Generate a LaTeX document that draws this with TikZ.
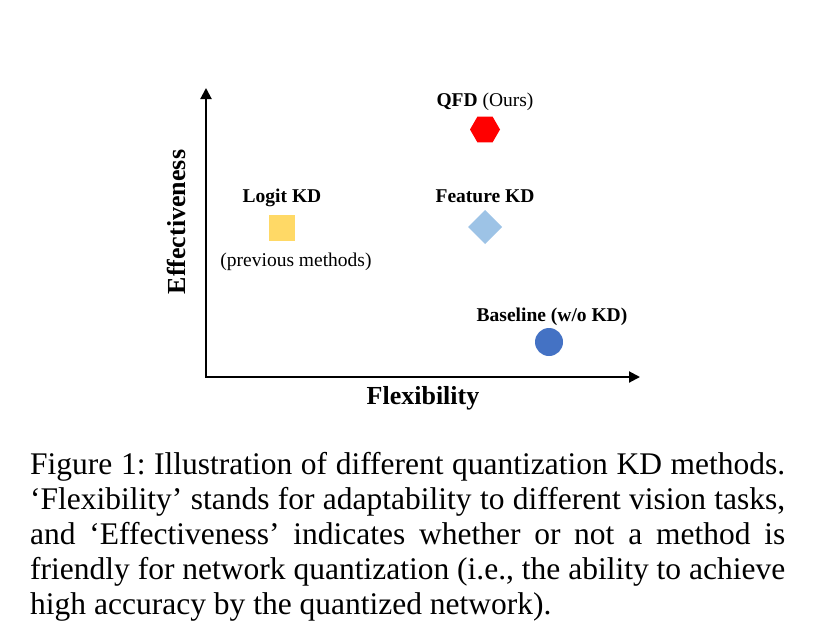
\documentclass[tikz,border=0pt]{standalone}
\usepackage{fontspec}
\setmainfont{Liberation Serif}
\usepackage{xcolor}
\usepackage{tikz}
\usetikzlibrary{positioning,arrows.meta,shapes.geometric}

\definecolor{qfdred}{RGB}{255,0,0}
\definecolor{logityellow}{RGB}{255,217,102}
\definecolor{featblue}{RGB}{157,195,230}
\definecolor{baseblue}{RGB}{68,114,196}

\begin{document}
\begin{tikzpicture}[
    x=1pt,y=-1pt,
    mk/.style={inner sep=0pt,outer sep=0pt,draw=none},
    lbl/.style={inner sep=0pt,font=\fontsize{19.5}{22}\selectfont},
    axlbl/.style={inner sep=0pt,font=\fontsize{26}{30}\selectfont\bfseries},
    axis/.style={line width=2pt,{Triangle[length=11pt 0 0,width=11pt 0 0]}-{Triangle[length=11pt 0 0,width=11pt 0 0]}}
  ]
    \useasboundingbox (0,0) rectangle (830,643);
    % axes
    \coordinate (origin) at (206,377);
    \coordinate (ytop) at (206,88);
    \coordinate (xend) at (640,377);
    \draw[axis] (ytop) -- (origin) -- (xend);
    \node[axlbl] (flex) at (423,398) {Flexibility};
    \node[axlbl,rotate=90] (eff) at (176,222) {Effectiveness};
    % methods
    \node[mk,regular polygon,regular polygon sides=6,minimum size=30pt,fill=qfdred] (qfd) at (485,129.5) {};
    \node[mk,minimum size=26pt,fill=logityellow] (logit) at (282,228) {};
    \node[mk,diamond,minimum width=34pt,minimum height=34pt,fill=featblue] (feat) at (485,227) {};
    \node[mk,circle,minimum size=28pt,fill=baseblue] (base) at (549,342) {};
    \node[lbl,above=6pt of qfd] (qfdlbl) {\textbf{QFD} (Ours)};
    \node[lbl,above=8pt of logit,font=\fontsize{19.5}{22}\selectfont\bfseries] (logitlbl) {Logit KD};
    \node[lbl,below=12pt of logit,xshift=14pt] (prevlbl) {(previous methods)};
    \node[lbl,above=7pt of feat,font=\fontsize{19.5}{22}\selectfont\bfseries] (featlbl) {Feature KD};
    \node[lbl,above=2pt of base,xshift=3pt,font=\fontsize{19.5}{22}\selectfont\bfseries] (baselbl) {Baseline (w/o KD)};
    % caption
    \node[inner sep=0pt,anchor=north west,text width=755pt,align=justify,
      font=\fontsize{31.5}{35}\selectfont\frenchspacing] (cap) at (30,452)
      {Figure 1: Illustration of different quantization KD methods.\linebreak
       ‘Flexibility’ stands for adaptability to different vision tasks,\linebreak
       and ‘Effectiveness’ indicates whether or not a method is\linebreak
       friendly for network quantization (i.e., the ability to achieve\linebreak
       high accuracy by the quantized network).};
  \end{tikzpicture}
\end{document}
